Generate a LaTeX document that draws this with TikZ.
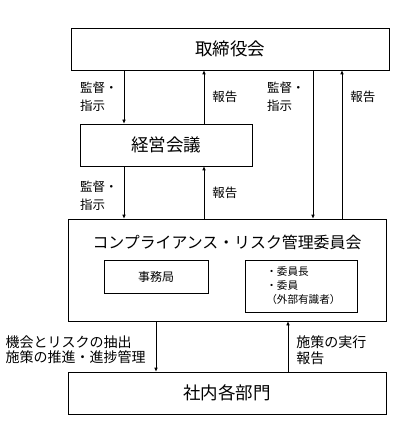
\documentclass[tikz,border=0pt]{standalone}
\usepackage{fontspec}
\setmainfont{Noto Sans CJK JP}
\usetikzlibrary{arrows.meta}
\usetikzlibrary{positioning}
\tikzstyle{box}  = [draw,rectangle,inner sep=0pt]
\tikzstyle{lbl}  = [inner sep=0pt,align=left,font=\fontsize{12.5}{18}\selectfont]
\newcommand{\fsz}[2]{\fontsize{#1}{#2}\selectfont}

\begin{document}
\begin{tikzpicture}[x=1pt,y=-1pt,->,>={Latex[length=4pt,width=3.5pt]},line width=0.6pt]
\useasboundingbox (0,0) rectangle (405,427);

\node[box, minimum width=318pt, minimum height=42pt, font=\fsz{17.5}{20}] (B1) at (230,49) {取締役会};
\node[box, minimum width=172pt, minimum height=42pt, font=\fsz{17.5}{20}] (B2) at (166,145) {経営会議};
\node[box, minimum width=318pt, minimum height=102pt] (B3) at (227,270) {};
\node[inner sep=0pt, font=\fsz{15.9}{18}] (T3) at (227,242) {コンプライアンス・リスク管理委員会};
\node[box, minimum width=104pt, minimum height=33pt, font=\fsz{12}{14}] (S1) at (156,276.5) {事務局};
\node[box, minimum width=112pt, minimum height=52pt] (S2) at (301,286) {};
\node[inner sep=0pt, align=left, font=\fsz{10.6}{14}, anchor=west] (S2t) at (266,286) {・委員長\\・委員\\（外部有識者）};
\node[box, minimum width=318pt, minimum height=42pt, font=\fsz{17.5}{20}] (B4) at (227,393) {社内各部門};

\coordinate (c1) at (124,0);
\coordinate (c2) at (204,0);
\coordinate (c3) at (313,0);
\coordinate (c4) at (342,0);
\coordinate (c5) at (156,0);
\coordinate (c6) at (288,0);

\draw (B1.south -| c1) -- node[lbl, left=6pt] {監督・\\指示} (B2.north -| c1);
\draw (B2.north -| c2) -- node[lbl, right=8pt] {報告} (B1.south -| c2);
\draw (B2.south -| c1) -- node[lbl, left=6pt, yshift=-3pt] {監督・\\指示} (B3.north -| c1);
\draw (B3.north -| c2) -- node[lbl, right=8pt] {報告} (B2.south -| c2);
\draw (B1.south -| c3) -- node[lbl, left=8pt, pos=0.18] {監督・\\指示} (B3.north -| c3);
\draw (B3.north -| c4) -- node[lbl, right=8pt, pos=0.82] {報告} (B1.south -| c4);
\draw (B3.south -| c5) -- node[lbl, left=10pt, yshift=-3pt, font=\fsz{14}{15.5}] {機会とリスクの抽出\\施策の推進・進捗管理} (B4.north -| c5);
\draw (B4.north -| c6) -- node[lbl, right=8pt, yshift=-4pt, font=\fsz{14}{16}] {施策の実行\\報告} (B3.south -| c6);

\end{tikzpicture}
\end{document}
